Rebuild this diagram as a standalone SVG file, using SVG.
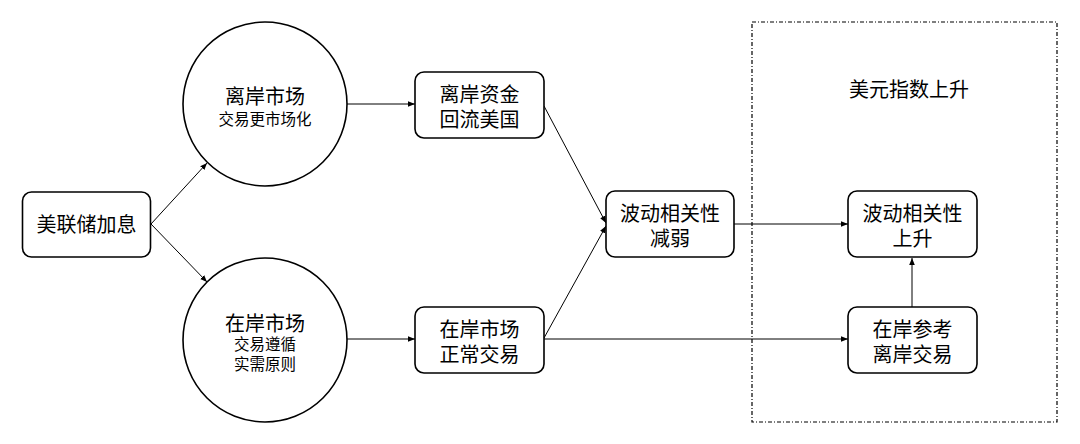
<svg xmlns="http://www.w3.org/2000/svg" width="1080" height="444" viewBox="0 0 1080 444">
<defs>
<marker id="arr" viewBox="0 0 10 10" refX="10" refY="5" markerWidth="7" markerHeight="7" markerUnits="userSpaceOnUse" orient="auto">
<path d="M0,1 L10,5 L0,9 Z" fill="#000"/>
</marker>
<style>
.node{fill:#fff;stroke:#000;stroke-width:1.6}
.t{font-family:"Liberation Sans","Noto Sans CJK SC",sans-serif;font-size:20px;fill:#000;text-anchor:middle;dominant-baseline:central}
.s{font-size:15.5px}
.e{fill:none;stroke:#000;stroke-width:1;marker-end:url(#arr)}
.ln{fill:none;stroke:#000;stroke-width:1}
</style>
</defs>
<rect width="1080" height="444" fill="#fff"/>
<g id="group-usd">
<rect x="752" y="22" width="305" height="400" fill="none" stroke="#000" stroke-width="1.2" stroke-dasharray="4 2 1 2"/>
<text class="t" x="909" y="90">美元指数上升</text>
</g>
<g id="connectors">
<line class="e" x1="151" y1="224" x2="207" y2="163"/>
<line class="e" x1="151" y1="224" x2="207" y2="282"/>
<line class="e" x1="347" y1="104" x2="415" y2="104"/>
<line class="e" x1="347" y1="339" x2="415" y2="339"/>
<line class="e" x1="544" y1="106" x2="606" y2="223"/>
<line class="e" x1="544" y1="338" x2="606" y2="226"/>
<line class="e" x1="734" y1="224" x2="848" y2="224"/>
<line class="e" x1="544" y1="339" x2="848" y2="339"/>
<line class="e" x1="912" y1="307" x2="912" y2="258"/>
</g>
<g id="fed">
<rect class="node" x="22.5" y="192" width="128" height="65" rx="9"/>
<text class="t" x="86.5" y="225">美联储加息</text>
</g>
<g id="offshore">
<circle class="node" cx="265" cy="104" r="82"/>
<text class="t" x="265" y="97">离岸市场</text>
<text class="t s" x="265" y="119">交易更市场化</text>
</g>
<g id="onshore">
<circle class="node" cx="265" cy="340" r="82"/>
<text class="t" x="265" y="324">在岸市场</text>
<text class="t s" x="265" y="344">交易遵循</text>
<text class="t s" x="265" y="364">实需原则</text>
</g>
<g id="offshore-flow">
<rect class="node" x="415" y="72" width="129" height="66" rx="9"/>
<text class="t" x="479.5" y="95">离岸资金</text>
<text class="t" x="479.5" y="120">回流美国</text>
</g>
<g id="onshore-normal">
<rect class="node" x="415" y="307" width="129" height="66" rx="9"/>
<text class="t" x="479.5" y="330">在岸市场</text>
<text class="t" x="479.5" y="355">正常交易</text>
</g>
<g id="corr-weaken">
<rect class="node" x="606" y="191" width="128" height="66" rx="9"/>
<text class="t" x="670" y="214">波动相关性</text>
<text class="t" x="670" y="239">减弱</text>
</g>
<g id="corr-rise">
<rect class="node" x="848" y="191" width="129" height="66" rx="9"/>
<text class="t" x="912.5" y="214">波动相关性</text>
<text class="t" x="912.5" y="239">上升</text>
</g>
<g id="onshore-ref">
<rect class="node" x="848" y="307" width="129" height="66" rx="9"/>
<text class="t" x="912.5" y="330">在岸参考</text>
<text class="t" x="912.5" y="355">离岸交易</text>
</g>
</svg>
